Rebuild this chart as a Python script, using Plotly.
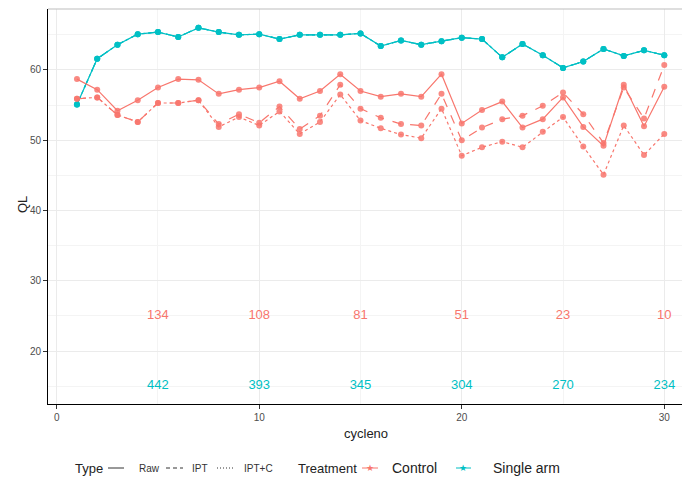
import plotly.graph_objects as go

cycles = list(range(1, 31))

single_arm = [55.1, 61.6, 63.6, 65.1, 65.4, 64.7, 66.0, 65.4, 65.0, 65.1,
              64.4, 65.0, 65.0, 65.0, 65.2, 63.4, 64.2, 63.6, 64.1, 64.6,
              64.4, 61.8, 63.7, 62.1, 60.3, 61.2, 63.0, 62.0, 62.8, 62.1]

control_raw = [58.7, 57.2, 54.2, 55.7, 57.5, 58.7, 58.6, 56.6, 57.2, 57.5,
               58.4, 55.9, 57.0, 59.4, 57.0, 56.2, 56.6, 56.2, 59.4, 52.4,
               54.3, 55.5, 51.8, 53.0, 56.1, 51.9, 49.2, 57.9, 52.0, 57.6]

control_ipt = [55.9, 56.1, 53.6, 52.6, 55.3, 55.3, 55.7, 52.3, 53.7, 52.5,
               54.8, 51.6, 53.5, 57.9, 54.5, 53.2, 52.3, 52.1, 56.6, 50.0,
               51.8, 53.0, 53.5, 54.9, 56.8, 53.7, 49.6, 57.5, 53.1, 60.7]

control_iptc = [55.9, 56.1, 53.6, 52.6, 55.3, 55.3, 55.7, 51.9, 53.3, 52.1,
                54.1, 50.9, 52.6, 56.5, 52.8, 51.7, 50.8, 50.3, 54.5, 47.8,
                49.0, 49.8, 49.0, 51.2, 53.3, 49.1, 45.1, 52.1, 47.9, 50.9]

n_x = [5, 10, 15, 20, 25, 30]
n_control = ["134", "108", "81", "51", "23", "10"]
n_single = ["442", "393", "345", "304", "270", "234"]
n_control_y = 25
n_single_y = 15

type_labels = ["Raw", "IPT", "IPT+C"]
treat_labels = ["Control", "Single arm"]

RED = "#F8766D"
TEAL = "#00BFC4"
FONT = "Liberation Sans"

OFF = 8  # page body offset
W, H = 682, 476
ML, MR, MT, MB = 40, 0, 1, 80
PW, PH = W - ML - MR, H - MT - MB


def px(xr):
    return (xr - OFF - ML) / PW


def py(yr):
    return (H - MB - (yr - OFF)) / PH


fig = go.Figure()

dash_map = {"Raw": "solid", "IPT": "dash", "IPT+C": "dot"}
legend_dash = {"Raw": "solid", "IPT": "4px,3px", "IPT+C": "1px,2px"}

series = [
    ("Single arm", "Raw", single_arm, TEAL),
    ("Single arm", "IPT", single_arm, TEAL),
    ("Single arm", "IPT+C", single_arm, TEAL),
    ("Control", "IPT+C", control_iptc, RED),
    ("Control", "IPT", control_ipt, RED),
    ("Control", "Raw", control_raw, RED),
]
for trt, typ, vals, col in series:
    fig.add_trace(go.Scatter(
        x=cycles, y=vals, mode="lines+markers",
        line=dict(color=col, width=1.2, dash=dash_map[typ]),
        marker=dict(color=col, size=6, symbol="circle", opacity=0.85),
        showlegend=False, hoverinfo="skip"))

fig.add_trace(go.Scatter(x=n_x, y=[n_control_y] * 6, mode="text", text=n_control,
                         textfont=dict(color=RED, size=13, family=FONT), cliponaxis=False,
                         showlegend=False, hoverinfo="skip"))
fig.add_trace(go.Scatter(x=n_x, y=[n_single_y] * 6, mode="text", text=n_single,
                         textfont=dict(color=TEAL, size=13, family=FONT), cliponaxis=False,
                         showlegend=False, hoverinfo="skip"))

grid = "#EBEBEB"
fig.update_layout(
    width=W, height=H,
    margin=dict(l=ML, r=MR, t=MT, b=MB, autoexpand=False),
    paper_bgcolor="white", plot_bgcolor="white",
    font=dict(family=FONT, color="#333333"),
    showlegend=False,
    xaxis=dict(range=[-0.43, 31.27], tickvals=[0, 10, 20, 30], automargin=False,
               showgrid=True, gridcolor=grid, gridwidth=1,
               minor=dict(tickvals=[5, 15, 25], showgrid=True, gridcolor="#F4F4F4", gridwidth=0.6),
               zeroline=False, showline=True, linecolor="black", linewidth=1,
               ticks="outside", ticklen=4, tickcolor="#333333",
               tickfont=dict(size=10, color="#4D4D4D")),
    yaxis=dict(range=[12.46, 68.68], tickvals=[20, 30, 40, 50, 60], automargin=False,
               showgrid=True, gridcolor=grid, gridwidth=1,
               minor=dict(tickvals=[15, 25, 35, 45, 55, 65], showgrid=True, gridcolor="#F4F4F4", gridwidth=0.6),
               zeroline=False, showline=True, linecolor="black", linewidth=1,
               ticks="outside", ticklen=4, tickcolor="#333333",
               tickfont=dict(size=10, color="#4D4D4D")),
)

# top panel border
fig.add_shape(type="line", xref="paper", yref="paper", x0=0, x1=1, y0=1, y1=1,
              line=dict(color="#BDBDBD", width=1))

# axis titles
fig.add_annotation(text="cycleno", xref="paper", yref="paper", x=px(366), y=py(433),
                   xanchor="center", yanchor="middle",
                   showarrow=False, font=dict(size=13, color="#222", family=FONT))
fig.add_annotation(text="QL", xref="paper", yref="paper", x=px(22), y=py(205),
                   xanchor="center", yanchor="middle",
                   textangle=-90, showarrow=False, font=dict(size=13, color="#222", family=FONT))

# manual legend
LY = 468
fig.add_annotation(text="Type", xref="paper", yref="paper", x=px(73), y=py(LY),
                   xanchor="left", yanchor="middle", showarrow=False,
                   font=dict(size=13, color="#222", family=FONT))
type_pos = [(108, 124, 137), (166, 183, 190), (217, 233, 242)]
for lab, (x0, x1, tx) in zip(type_labels, type_pos):
    fig.add_shape(type="line", xref="paper", yref="paper", x0=px(x0), x1=px(x1),
                  y0=py(LY), y1=py(LY), line=dict(color="#333", width=1, dash=legend_dash[lab]))
    fig.add_annotation(text=lab, xref="paper", yref="paper", x=px(tx), y=py(LY),
                       xanchor="left", yanchor="middle", showarrow=False,
                       font=dict(size=10, color="#333", family=FONT))

fig.add_annotation(text="Treatment", xref="paper", yref="paper", x=px(296), y=py(LY),
                   xanchor="left", yanchor="middle", showarrow=False,
                   font=dict(size=13, color="#222", family=FONT))
treat_pos = [(362, 378, 370, 390, RED), (456, 471, 463, 491, TEAL)]
for lab, (x0, x1, sx, tx, col) in zip(treat_labels, treat_pos):
    fig.add_shape(type="line", xref="paper", yref="paper", x0=px(x0), x1=px(x1),
                  y0=py(LY), y1=py(LY), line=dict(color=col, width=1))
    fig.add_annotation(text="★", xref="paper", yref="paper", x=px(sx), y=py(LY),
                       xanchor="center", yanchor="middle",
                       showarrow=False, font=dict(size=9, color=col, family="DejaVu Sans"))
    fig.add_annotation(text=lab, xref="paper", yref="paper", x=px(tx), y=py(LY),
                       xanchor="left", yanchor="middle", showarrow=False,
                       font=dict(size=14, color="#222", family=FONT))

fig.write_html("out.html")
